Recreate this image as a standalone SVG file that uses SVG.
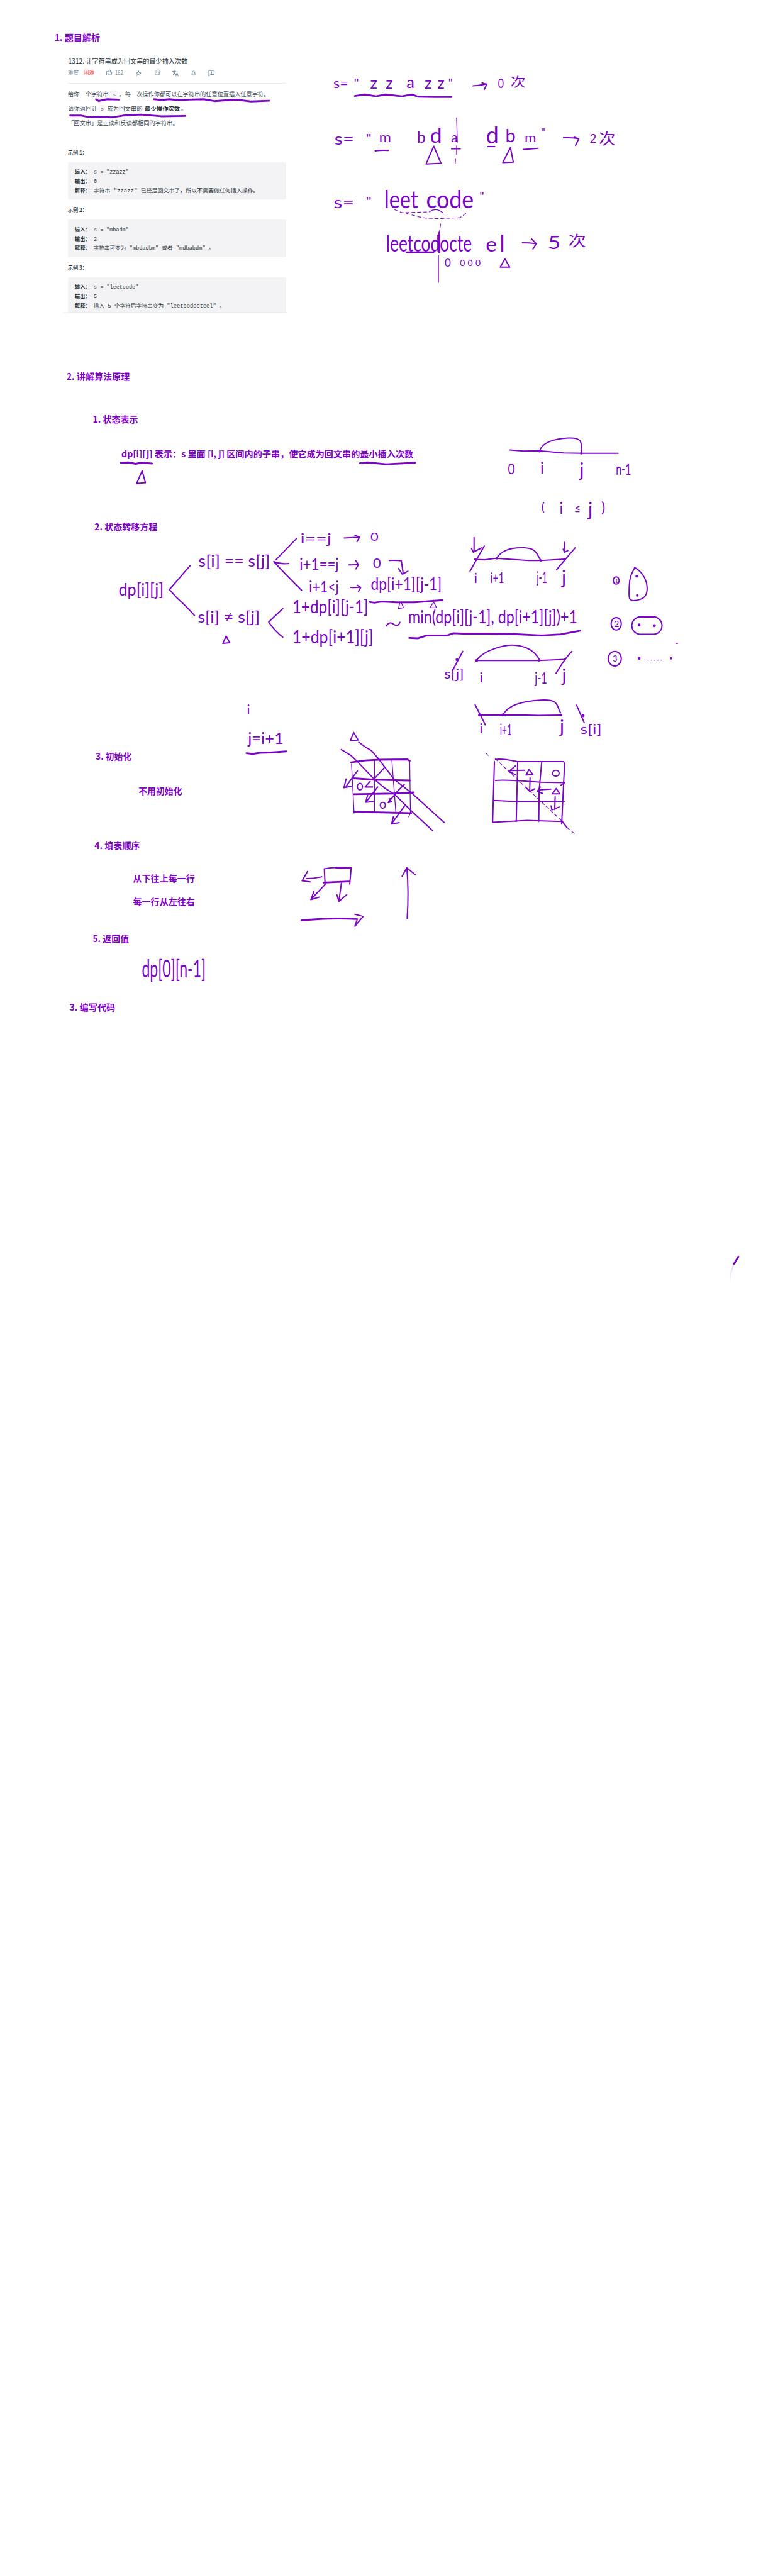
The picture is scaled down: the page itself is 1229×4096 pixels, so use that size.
<svg xmlns="http://www.w3.org/2000/svg" width="1229" height="4096" viewBox="0 0 1229 4096">
<defs>
<linearGradient id="fade" gradientUnits="userSpaceOnUse" x1="2019" y1="3477" x2="2007" y2="3533"><stop offset="0" stop-color="#7a05c4" stop-opacity=".2"/><stop offset="1" stop-color="#7a05c4" stop-opacity="0"/></linearGradient>
</defs>
<style>
text{font-family:"Noto Sans CJK SC",sans-serif}
.head{font-size:24.5px;font-weight:700;fill:#7f00c8}
.title{font-size:18px;fill:#263238}
.meta{font-size:15px;fill:#78909c}
.p{font-size:16px;fill:#37474f}
.pb{font-size:16px;fill:#263238;font-weight:700}
.cb{font-size:14px;font-weight:700;fill:#263238}
.c{font-size:14.5px;fill:#263238;font-family:"Liberation Mono","Noto Sans CJK SC",monospace}
.ci{font-size:14px;fill:#666;font-family:"Liberation Mono",monospace}
.box{fill:#f3f3f5}
.ibox{fill:#f7f7f9}
.h{fill:#7a05c4;font-family:"Lato","Noto Sans CJK SC",sans-serif}
.hc{fill:#7a05c4;font-family:"Noto Sans CJK SC",sans-serif;font-weight:400}
path,polyline{fill:none;stroke:#7a05c4;stroke-width:3.5;stroke-linecap:round;stroke-linejoin:round}
.t{stroke-width:5}
.n{stroke-width:2.2}
.d{stroke-width:2;stroke-dasharray:9 7}
.dot{fill:#7a05c4}
.shape{fill:none;stroke:#7a05c4;stroke-width:3.5}
.ic{stroke:#607d8b;stroke-width:1.6}
.hr{stroke:#e6e6e6;stroke-width:1.6}
</style>
<g transform="scale(0.578)">
<g id="headings">
<text class="head" x="150" y="113" textLength="125" lengthAdjust="spacingAndGlyphs">1. 题目解析</text>
<text class="head" x="183" y="1045" textLength="174" lengthAdjust="spacingAndGlyphs">2. 讲解算法原理</text>
<text class="head" x="255" y="1162" textLength="125" lengthAdjust="spacingAndGlyphs">1. 状态表示</text>
<text class="head" x="334" y="1257" textLength="803" lengthAdjust="spacingAndGlyphs">dp[i][j] 表示：s 里面 [i, j] 区间内的子串，使它成为回文串的最小插入次数</text>
<text class="head" x="260" y="1459" textLength="173" lengthAdjust="spacingAndGlyphs">2. 状态转移方程</text>
<text class="head" x="263" y="2090" textLength="99" lengthAdjust="spacingAndGlyphs">3. 初始化</text>
<text class="head" x="381" y="2185" textLength="120" lengthAdjust="spacingAndGlyphs">不用初始化</text>
<text class="head" x="260" y="2335" textLength="125" lengthAdjust="spacingAndGlyphs">4. 填表顺序</text>
<text class="head" x="366" y="2426" textLength="170" lengthAdjust="spacingAndGlyphs">从下往上每一行</text>
<text class="head" x="366" y="2490" textLength="170" lengthAdjust="spacingAndGlyphs">每一行从左往右</text>
<text class="head" x="255" y="2592" textLength="100" lengthAdjust="spacingAndGlyphs">5. 返回值</text>
<text class="head" x="191" y="2780" textLength="126" lengthAdjust="spacingAndGlyphs">3. 编写代码</text>
</g>
<g id="problem">
<text class="title" x="188" y="175" textLength="328" lengthAdjust="spacingAndGlyphs">1312. 让字符串成为回文串的最少插入次数</text>
<text class="meta" x="187" y="206">难度</text>
<text class="meta" x="230" y="206" style="fill:#f44b4b">困难</text>
<path class="ic" d="M293 206V197H297L302 193 304 194 303 198H308L306 206H297M297 197V206"/>
<text class="meta" x="316" y="206" textLength="23" lengthAdjust="spacingAndGlyphs">182</text>
<path class="ic" d="M381 195L383 200 388 200.500 384 204 385.500 208 381 205.500 376.500 208 378 204 374 200.500 379 200Z"/>
<path class="ic" d="M427 195V206H438V197M431 200V193H438L441 196"/>
<path class="ic" d="M475 196H483M479 193V196M482 196Q480 204 475 207M477 199Q480 204 484 206M484 209L487 200 490 209M485 207H489"/>
<path class="ic" d="M527 204H538M529 204V198Q532 193 536 198V204M532 207H534"/>
<path class="ic" d="M575 194H589V205H579L575 209ZM582 197V201M582 203V204"/>
<line class="hr" x1="187" y1="229" x2="787" y2="229"/>
<rect class="ibox" x="306" y="248" width="17" height="20" rx="3"/>
<rect class="ibox" x="273" y="288" width="17" height="21" rx="3"/>
<text class="p" x="187" y="265">给你一个字符串</text>
<text class="ci" x="310" y="265">s</text>
<text class="p" x="326" y="265">，</text>
<text class="p" x="344" y="265" textLength="397">每一次操作你都可以在字符串的任意位置插入任意字符。</text>
<text class="p" x="187" y="305" textLength="81">请你返回让</text>
<text class="ci" x="277" y="305">s</text>
<text class="p" x="295" y="305" textLength="97">成为回文串的</text>
<text class="pb" x="398" y="305" textLength="97">最少操作次数</text>
<text class="p" x="498" y="305">。</text>
<text class="p" x="187" y="345" textLength="304">「回文串」是正读和反读都相同的字符串。</text>
<path class="t" d="M264 273L272 278 282 275 295 273 327 274"/>
<path class="t" d="M424 273L445 275 465 273 490 275 520 274 560 273 590 278 620 276 650 274 690 279 740 277"/>
<path class="t" d="M193 318L224 318 244 322 272 321 306 323 339 318 387 315 444 320 510 319"/>
<text class="pb" x="187" y="425" textLength="53" lengthAdjust="spacingAndGlyphs">示例 1：</text>
<rect class="box" x="187" y="446" width="600" height="103" rx="4"/>
<text class="cb" x="206" y="477">输入：</text><text class="c" x="258" y="477" textLength="96" lengthAdjust="spacingAndGlyphs">s = "zzazz"</text>
<text class="cb" x="206" y="503">输出：</text><text class="c" x="258" y="503">0</text>
<text class="cb" x="206" y="529">解释：</text><text class="c" x="257" y="529" textLength="455" lengthAdjust="spacingAndGlyphs">字符串 "zzazz" 已经是回文串了，所以不需要做任何插入操作。</text>
<text class="pb" x="187" y="583" textLength="53" lengthAdjust="spacingAndGlyphs">示例 2：</text>
<rect class="box" x="187" y="604" width="600" height="103" rx="4"/>
<text class="cb" x="206" y="636">输入：</text><text class="c" x="258" y="636" textLength="96" lengthAdjust="spacingAndGlyphs">s = "mbadm"</text>
<text class="cb" x="206" y="662">输出：</text><text class="c" x="258" y="662">2</text>
<text class="cb" x="206" y="687">解释：</text><text class="c" x="257" y="687" textLength="332" lengthAdjust="spacingAndGlyphs">字符串可变为 "mbdadbm" 或者 "mdbabdm" 。</text>
<text class="pb" x="187" y="742" textLength="53" lengthAdjust="spacingAndGlyphs">示例 3：</text>
<rect class="box" x="187" y="763" width="600" height="97" rx="4"/>
<text class="cb" x="206" y="794">输入：</text><text class="c" x="258" y="794" textLength="123" lengthAdjust="spacingAndGlyphs">s = "leetcode"</text>
<text class="cb" x="206" y="820">输出：</text><text class="c" x="258" y="820">5</text>
<text class="cb" x="206" y="846">解释：</text><text class="c" x="257" y="846" textLength="362" lengthAdjust="spacingAndGlyphs">插入 5 个字符后字符串变为 "leetcodocteel" 。</text>
<line class="hr" x1="174" y1="860" x2="789" y2="860"/>
</g>
<g id="examples">
<text class="h" x="917" y="243" font-size="38" textLength="41" lengthAdjust="spacingAndGlyphs">s=</text>
<text class="h" x="973" y="240" font-size="32" textLength="14" lengthAdjust="spacingAndGlyphs">"</text>
<text class="h" x="1018" y="244" font-size="44">z</text>
<text class="h" x="1061" y="244" font-size="44">z</text>
<text class="h" x="1118" y="243" font-size="44">a</text>
<text class="h" x="1168" y="244" font-size="44">z</text>
<text class="h" x="1203" y="244" font-size="44">z</text>
<text class="h" x="1233" y="240" font-size="32" textLength="12" lengthAdjust="spacingAndGlyphs">"</text>
<path class="t" d="M976 264L1003 260 1035 265 1060 260 1105 265 1134 260 1150 266 1194 267 1242 267"/>
<path d="M1301 236Q1320 235 1338 231M1326 228L1339 232 1332 246"/>
<text class="h" x="1370" y="242" font-size="36" textLength="16" lengthAdjust="spacingAndGlyphs">0</text>
<text class="hc" x="1404" y="239" font-size="36" textLength="42" lengthAdjust="spacingAndGlyphs">次</text>

<text class="h" x="920" y="398" font-size="42" textLength="54" lengthAdjust="spacingAndGlyphs">s=</text>
<text class="h" x="1006" y="392" font-size="34" textLength="16" lengthAdjust="spacingAndGlyphs">"</text>
<text class="h" x="1043" y="391" font-size="38" textLength="33" lengthAdjust="spacingAndGlyphs">m</text>
<path d="M1032 415Q1050 413 1068 414"/>
<text class="h" x="1147" y="393" font-size="42">b</text>
<text class="h" x="1183" y="393" font-size="58">d</text>
<text class="h" x="1241" y="391" font-size="36">a</text>
<path class="n" d="M1256 324L1258 391M1256 401V425M1253 438L1252 450"/>
<path d="M1242 409H1266"/>
<text class="h" x="1337" y="394" font-size="62">d</text>
<path d="M1342 403H1361"/>
<text class="h" x="1390" y="391" font-size="50">b</text>
<text class="h" x="1443" y="391" font-size="34" textLength="32" lengthAdjust="spacingAndGlyphs">m</text>
<path d="M1440 411Q1460 410 1480 408"/>
<text class="h" x="1488" y="375" font-size="30" textLength="12" lengthAdjust="spacingAndGlyphs">"</text>
<path d="M1550 379Q1570 378 1590 381M1579 377L1592 382 1583 400"/>
<text class="h" x="1622" y="393" font-size="34" textLength="19" lengthAdjust="spacingAndGlyphs">2</text>
<text class="hc" x="1647" y="397" font-size="42" textLength="46" lengthAdjust="spacingAndGlyphs">次</text>
<path d="M1193 402L1172 451 1213 449Z"/>
<path d="M1404 406L1383 447 1412 446Z"/>

<text class="h" x="918" y="572" font-size="42" textLength="56" lengthAdjust="spacingAndGlyphs">s=</text>
<text class="h" x="1006" y="565" font-size="34" textLength="16" lengthAdjust="spacingAndGlyphs">"</text>
<text class="h" x="1057" y="573" font-size="68" textLength="93" lengthAdjust="spacingAndGlyphs">leet</text>
<text class="h" x="1172" y="573" font-size="68" textLength="131" lengthAdjust="spacingAndGlyphs">code</text>
<text class="h" x="1319" y="552" font-size="34" textLength="13" lengthAdjust="spacingAndGlyphs">"</text>
<path class="d" d="M1086 577L1105 585 1182 583M1118 587L1150 596 1182 602 1265 599 1285 584"/>
<path class="n" d="M1182 582Q1200 570 1219 586"/>
<path class="d" d="M1212 616L1208 644"/>
<path class="t" d="M1208 640V694"/>
<path class="n" d="M1206 703V777"/>
<text class="h" x="1062" y="692" font-size="62" textLength="236" lengthAdjust="spacingAndGlyphs">leetcodocte</text>
<text class="h" x="1336" y="692" font-size="58">e</text>
<text class="h" x="1374" y="692" font-size="62">l</text>
<path class="t" d="M1119 694H1192"/>
<path d="M1437 668Q1455 668 1473 670M1462 657L1475 670 1466 685"/>
<text class="h" x="1507" y="685" font-size="50" textLength="35" lengthAdjust="spacingAndGlyphs">5</text>
<text class="hc" x="1563" y="676" font-size="40" textLength="49" lengthAdjust="spacingAndGlyphs">次</text>
<text class="h" x="1223" y="733" font-size="30" textLength="17" lengthAdjust="spacingAndGlyphs">0</text>
<text class="h" x="1265" y="732" font-size="24" textLength="57" lengthAdjust="spacing">000</text>
<path d="M1389 712L1376 735 1402 735Z"/>
</g>
<g id="state-meaning">
<path class="t" d="M332 1273L354 1272 373 1276 389 1273 418 1275"/>
<path class="t" d="M990 1274L1011 1272 1062 1277 1142 1273"/>
<path d="M391 1295L376 1330 400 1328Z"/>
<path d="M1403 1238L1440 1241 1483 1240 1550 1246 1600 1247 1700 1247"/>
<path d="M1485 1238C1495 1215 1525 1207 1563 1205S1600 1215 1600 1245"/>
<circle class="dot" cx="1484" cy="1241" r="4"/><circle class="dot" cx="1599" cy="1247" r="3.500"/>
<text class="h" x="1397" y="1305" font-size="40" textLength="19" lengthAdjust="spacingAndGlyphs">0</text>
<text class="h" x="1486" y="1303" font-size="42">i</text>
<text class="h" x="1594" y="1311" font-size="52">j</text>
<text class="h" x="1694" y="1307" font-size="44" textLength="42" lengthAdjust="spacingAndGlyphs">n-1</text>
<text class="h" x="1489" y="1406" font-size="34">(</text>
<text class="h" x="1539" y="1414" font-size="42">i</text>
<text class="h" x="1579" y="1410" font-size="32" textLength="18" lengthAdjust="spacingAndGlyphs">≤</text>
<text class="h" x="1617" y="1420" font-size="54">j</text>
<text class="h" x="1654" y="1410" font-size="40">)</text>
</g>
<g id="transition">
<text class="h" x="326" y="1638" font-size="48" textLength="124" lengthAdjust="spacingAndGlyphs">dp[i][j]</text>
<path d="M523 1556L466 1622 485 1643Q515 1670 535 1693"/>
<text class="h" x="546" y="1558" font-size="44" textLength="197" lengthAdjust="spacingAndGlyphs">s[i] == s[j]</text>
<path d="M815 1482L759 1540M753 1545Q772 1553 794 1550M753 1545Q785 1580 830 1624"/>
<text class="h" x="826" y="1495" font-size="38" textLength="86" lengthAdjust="spacingAndGlyphs">i==j</text>
<path d="M947 1480Q968 1479 988 1478M976 1472L989 1478 982 1490"/>
<text class="h" x="1019" y="1488" font-size="30" textLength="22" lengthAdjust="spacingAndGlyphs">0</text>
<text class="h" x="824" y="1568" font-size="44" textLength="108" lengthAdjust="spacingAndGlyphs">i+1==j</text>
<path d="M960 1554Q972 1555 984 1552M978 1542L986 1553 979 1565"/>
<text class="h" x="1026" y="1563" font-size="38" textLength="22" lengthAdjust="spacingAndGlyphs">0</text>
<path d="M1071 1542Q1090 1541 1104 1543L1109 1577M1096 1564L1107 1580 1122 1571"/>
<text class="h" x="850" y="1630" font-size="44" textLength="82" lengthAdjust="spacingAndGlyphs">i+1&lt;j</text>
<path d="M965 1616Q978 1617 990 1615M983 1610L992 1616 986 1627"/>
<text class="h" x="1020" y="1622" font-size="48" textLength="195" lengthAdjust="spacingAndGlyphs">dp[i+1][j-1]</text>
<path class="t" d="M1016 1656L1030 1658 1050 1655 1090 1657 1140 1657 1217 1651"/>
<path class="n" d="M1100 1657L1096 1674 1110 1672 1104 1658"/>
<path class="n" d="M1193 1657L1182 1672 1201 1672Z"/>
<text class="h" x="544" y="1713" font-size="44" textLength="171" lengthAdjust="spacingAndGlyphs">s[i] ≠ s[j]</text>
<path d="M778 1674L739 1711Q755 1735 778 1753"/>
<text class="h" x="804" y="1687" font-size="50" textLength="209" lengthAdjust="spacingAndGlyphs">1+dp[i][j-1]</text>
<text class="h" x="804" y="1770" font-size="50" textLength="223" lengthAdjust="spacingAndGlyphs">1+dp[i+1][j]</text>
<path d="M622 1750L613 1770 632 1768Z"/>
<path d="M1062 1722Q1072 1708 1083 1717T1100 1712"/>
<text class="h" x="1123" y="1714" font-size="50" textLength="465" lengthAdjust="spacingAndGlyphs">min(dp[i][j-1], dp[i+1][j])+1</text>
<path class="t" d="M1126 1755L1150 1756 1174 1748 1230 1748 1247 1742 1273 1743 1338 1743 1403 1744 1490 1748 1542 1745 1596 1735"/>
</g>
<g id="interval-a">
<path d="M1307 1539L1334 1540 1364 1536 1455 1542 1488 1542 1553 1538"/>
<path d="M1332 1502L1293 1571M1304 1479V1515M1297 1509L1302 1519 1325 1507"/>
<path d="M1367 1534C1380 1515 1405 1505 1442 1507S1475 1525 1488 1542"/>
<path d="M1582 1507L1531 1567M1553 1492V1515M1549 1511L1553 1519 1562 1515"/>
<circle class="dot" cx="1307" cy="1539" r="3"/><circle class="dot" cx="1367" cy="1536" r="3.500"/><circle class="dot" cx="1488" cy="1542" r="3"/><circle class="dot" cx="1553" cy="1538" r="3"/>
<text class="h" x="1304" y="1603" font-size="38">i</text>
<text class="h" x="1349" y="1603" font-size="40" textLength="38" lengthAdjust="spacingAndGlyphs">i+1</text>
<text class="h" x="1476" y="1603" font-size="42" textLength="29" lengthAdjust="spacingAndGlyphs">j-1</text>
<text class="h" x="1545" y="1607" font-size="52">j</text>
</g>
<g id="interval-b">
<path d="M1310 1817L1481 1817 1553 1814"/>
<path d="M1312 1815C1330 1790 1385 1773 1416 1775S1470 1790 1484 1815"/>
<path d="M1573 1792Q1555 1810 1529 1853M1273 1792L1245 1844"/>
<circle class="dot" cx="1257" cy="1815" r="4"/><circle class="dot" cx="1311" cy="1817" r="4"/><circle class="dot" cx="1483" cy="1817" r="3"/><circle class="dot" cx="1553" cy="1814" r="3"/>
<text class="h" x="1222" y="1866" font-size="36" textLength="54" lengthAdjust="spacingAndGlyphs">s[j]</text>
<text class="h" x="1319" y="1877" font-size="38">i</text>
<text class="h" x="1471" y="1880" font-size="44" textLength="34" lengthAdjust="spacingAndGlyphs">j-1</text>
<text class="h" x="1546" y="1876" font-size="50">j</text>
</g>
<g id="interval-c">
<path d="M1319 1967L1447 1967 1481 1968 1544 1967"/>
<path d="M1384 1965C1400 1940 1430 1930 1486 1926S1530 1945 1542 1961"/>
<path d="M1307 1939L1335 1994M1586 1940L1607 1988"/>
<circle class="dot" cx="1319" cy="1967" r="4"/><circle class="dot" cx="1383" cy="1967" r="4"/><circle class="dot" cx="1544" cy="1967" r="3"/><circle class="dot" cx="1604" cy="1969" r="4"/>
<text class="h" x="1319" y="2018" font-size="36">i</text>
<text class="h" x="1375" y="2022" font-size="44" textLength="33" lengthAdjust="spacingAndGlyphs">i+1</text>
<text class="h" x="1540" y="2016" font-size="50">j</text>
<text class="h" x="1596" y="2019" font-size="36" textLength="59" lengthAdjust="spacingAndGlyphs">s[i]</text>
</g>
<g id="cases">
<ellipse class="shape" cx="1695" cy="1597" rx="8" ry="10"/>
<text class="h" x="1692" y="1603" font-size="14">1</text>
<path d="M1746 1561C1770 1575 1781 1600 1780 1622S1765 1650 1746 1652 1730 1640 1731 1611 1740 1575 1746 1561Z"/>
<circle class="dot" cx="1752" cy="1585" r="4"/><circle class="dot" cx="1753" cy="1638" r="3.500"/>
<ellipse class="shape" cx="1695" cy="1716" rx="14" ry="17"/>
<text class="h" x="1689" y="1725" font-size="24">2</text>
<rect class="shape" x="1738" y="1697" width="83" height="48" rx="24"/>
<circle class="dot" cx="1758" cy="1719" r="4"/><circle class="dot" cx="1800" cy="1721" r="4"/>
<ellipse class="shape" cx="1691" cy="1812" rx="18" ry="20"/>
<text class="h" x="1685" y="1820" font-size="22">3</text>
<circle class="dot" cx="1758" cy="1811" r="4"/><circle class="dot" cx="1846" cy="1811" r="3.500"/>
<path class="n" stroke-dasharray="2 7" d="M1782 1816H1824"/>
<path class="n" d="M1859 1770H1864"/>
</g>
<g id="grid-left">
<text class="h" x="679" y="1965" font-size="36">i</text>
<text class="h" x="682" y="2047" font-size="42" textLength="98" lengthAdjust="spacingAndGlyphs">j=i+1</text>
<path class="t" d="M678 2072L695 2074 715 2071 745 2070 787 2067"/>
<path d="M973 2015L964 2037 985 2036Z"/>
<path d="M939 2062L965 2078 983 2095 1029 2143 1057 2167 1085 2185 1134 2233 1190 2285"/>
<path d="M987 2042L1005 2055 1022 2065 1043 2090 1085 2145 1134 2183 1222 2263"/>
<path class="t" d="M966 2097L1005 2092 1043 2090 1120 2089 1127 2093M973 2141L1029 2145 1127 2147M973 2185L1085 2183 1138 2180M974 2233L1131 2237"/>
<path class="n" d="M967 2102L974 2237M1030 2093V2233M1078 2092L1089 2237M1127 2093L1129 2237 1124 2247"/>
<path d="M983 2121L952 2163M952 2143L946 2167 966 2163M1056 2113L1029 2143M1039 2165L1008 2205M1011 2188L1006 2207 1027 2205M1018 2150L1004 2165 1025 2165M1112 2158L1085 2185M1085 2187L1068 2208M1073 2197L1068 2208 1078 2205M1113 2217L1078 2265M1082 2247L1077 2267 1098 2263"/>
<ellipse class="shape" cx="990" cy="2164" rx="7" ry="9"/>
<ellipse class="shape" cx="1053" cy="2215" rx="7" ry="8"/>
</g>
<g id="grid-right">
<path d="M1363 2089Q1380 2086 1423 2095L1550 2095 1553 2100M1363 2147Q1387 2144 1487 2152L1553 2153M1358 2202L1420 2205 1552 2205M1355 2262L1450 2257 1547 2260M1360 2095L1355 2262M1424 2097L1420 2260M1490 2097L1483 2173 1482 2260M1553 2100L1545 2267"/>
<path class="d" d="M1337 2072L1343 2078M1362 2087L1547 2260M1560 2277L1585 2297"/>
<path d="M1547 2260L1560 2277M1543 2160L1552 2154"/>
<path d="M1443 2119L1400 2120M1418 2107L1400 2122 1417 2131M1455 2117L1447 2132 1466 2131ZM1458 2140L1457 2175M1447 2167L1457 2177 1471 2170M1515 2171L1483 2173M1486 2165L1478 2177 1493 2183M1530 2169L1519 2184 1540 2184ZM1527 2192L1526 2227M1516 2217L1518 2228 1538 2220"/>
<ellipse class="shape" cx="1529" cy="2127" rx="9" ry="8"/>
</g>
<g id="fill-order">
<path d="M892 2390Q925 2384 966 2388L962 2432M892 2390L894 2428"/>
<path class="t" d="M890 2428L960 2425M924 2387L966 2388"/>
<path d="M885 2412Q865 2417 843 2417M846 2397L831 2423 853 2426M896 2431L855 2475M864 2451L855 2475 878 2468M939 2430L932 2480M927 2462L932 2480 954 2461"/>
<path class="t" d="M829 2532Q900 2525 980 2528"/>
<path d="M976 2515L999 2521 976 2548 983 2528"/>
<path d="M1120 2527Q1125 2450 1119 2387M1106 2411L1119 2387 1143 2407"/>
</g>
<g id="return-value">
<text class="h" x="390" y="2688" font-size="68" textLength="176" lengthAdjust="spacingAndGlyphs">dp[0][n-1]</text>
</g>
<g id="stray">
<path d="M2031 3457L2019 3477" class="t"/>
<path d="M2019 3477Q2009 3500 2007 3533" style="stroke:url(#fade)"/>
</g>
</g>
</svg>
